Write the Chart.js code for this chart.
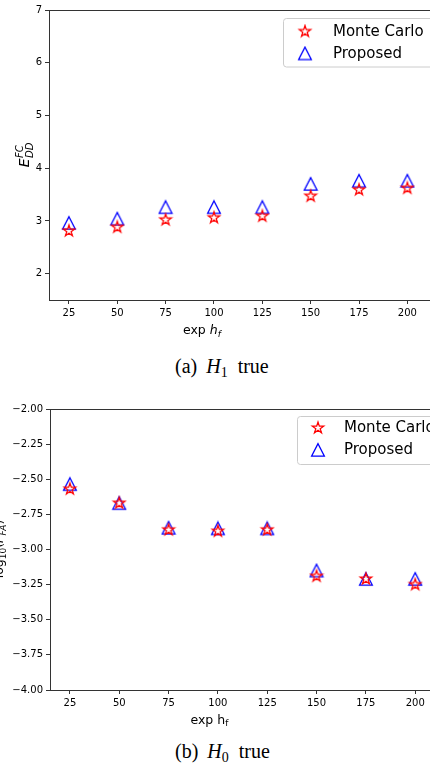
<!DOCTYPE html>
<html><head><meta charset="utf-8">
<script src="https://cdn.jsdelivr.net/npm/chart.js@4.4.0/dist/chart.umd.min.js"></script>
<style>
html,body{margin:0;padding:0;background:#fff;width:430px;height:764px;overflow:hidden;position:relative}
.wrap{position:absolute;left:0}
.cap{position:absolute;font-family:"Liberation Serif","Times New Roman",serif;font-size:20px;line-height:20px;white-space:nowrap;color:#000}
.cap sub{font-size:14px;vertical-align:-4px;line-height:0}
</style></head><body>
<div class="wrap" style="top:0"><canvas id="c1" width="460" height="345"></canvas></div>
<div class="wrap" style="top:390px"><canvas id="c2" width="460" height="345"></canvas></div>
<div class="cap" style="left:175px;top:356px">(a)<span style="margin-left:9px"><i>H</i><sub>1</sub></span><span style="margin-left:10px">true</span></div>
<div class="cap" style="left:175px;top:741px">(b)<span style="margin-left:9px"><i>H</i><sub>0</sub></span><span style="margin-left:10px">true</span></div>
<script>
const xValues=[25,50,75,100,125,150,175,200];
const xTickLabels=[25,50,75,100,125,150,175,200];
const seriesNames=['Monte Carlo','Proposed'];
const mcH1=[2.81,2.88,3.02,3.06,3.09,3.47,3.59,3.62];
const propH1=[2.96,3.04,3.26,3.26,3.26,3.70,3.76,3.76];
const mcH0=[-2.57,-2.67,-2.86,-2.87,-2.86,-3.19,-3.21,-3.25];
const propH0=[-2.535,-2.67,-2.846,-2.85,-2.85,-3.15,-3.21,-3.21];
const yTicksH1=[2,3,4,5,6,7];
const yTicksH0=[-4,-3.75,-3.5,-3.25,-3,-2.75,-2.5,-2.25,-2];

function starCanvas(){
  const s=16,c=document.createElement('canvas');c.width=s;c.height=s;
  const g=c.getContext('2d');const r=6,ri=r*0.381966;
  g.beginPath();
  for(let i=0;i<10;i++){const a=-Math.PI/2+i*Math.PI/5;const rr=i%2?ri:r;
    const x=s/2+rr*Math.cos(a),y=s/2+rr*Math.sin(a);i?g.lineTo(x,y):g.moveTo(x,y);}
  g.closePath();g.strokeStyle='#ff0000';g.lineWidth=1.25;g.stroke();return c;
}
function triCanvas(){
  const s=16,c=document.createElement('canvas');c.width=s;c.height=s;
  const g=c.getContext('2d');
  g.beginPath();g.moveTo(8,1.6);g.lineTo(1.6,14.2);g.lineTo(14.4,14.2);g.closePath();
  g.strokeStyle='#0000ff';g.lineWidth=1.25;g.stroke();return c;
}
const STAR=starCanvas(),TRI=triCanvas();

function drawRich(ctx,pieces,x,y,rot,align){
  ctx.save();ctx.translate(x,y);ctx.rotate(rot);ctx.textBaseline='alphabetic';ctx.fillStyle='#000';
  let total=0;
  pieces.forEach(p=>{ctx.font=p.font;p.w=ctx.measureText(p.t).width;if(!p.noAdv)total+=p.w+(p.gap||0);});
  let cx=align==='center'?-total/2:0;
  pieces.forEach(p=>{ctx.font=p.font;ctx.fillText(p.t,cx,p.dy||0);if(!p.noAdv)cx+=p.w+(p.gap||0);});
  ctx.restore();
}

const decor={
  id:'decor',
  afterDraw(chart,args,o){
    const ctx=chart.ctx,a=chart.chartArea;
    ctx.save();
    ctx.strokeStyle='#333';ctx.lineWidth=1;
    ctx.beginPath();ctx.moveTo(a.left,a.top+0.5);ctx.lineTo(a.right,a.top+0.5);ctx.stroke();
    const L=o.legend;
    ctx.beginPath();
    if(ctx.roundRect)ctx.roundRect(L.x,L.y,L.w,L.h,3);else ctx.rect(L.x,L.y,L.w,L.h);
    ctx.fillStyle='rgba(255,255,255,0.8)';ctx.fill();
    ctx.strokeStyle='#cccccc';ctx.lineWidth=1;ctx.stroke();
    ctx.font='15px "DejaVu Sans"';ctx.fillStyle='#000';ctx.textBaseline='middle';ctx.textAlign='left';
    chart.data.datasets.forEach((ds,i)=>{
      const yy=L.rows[i];
      ctx.drawImage(ds.pointStyle,L.mx-8,yy-8);
      ctx.fillText(ds.label,L.tx,yy+0.5);
    });
    ctx.restore();
    o.titles(ctx);
  }
};

function makeChart(id,mc,prop,yTicks,cfg){
  return new Chart(document.getElementById(id),{
    type:'scatter',
    data:{datasets:[
      {label:seriesNames[0],data:xValues.map((x,i)=>({x,y:mc[i]})),pointStyle:STAR,pointRadius:6,showLine:false},
      {label:seriesNames[1],data:xValues.map((x,i)=>({x,y:prop[i]})),pointStyle:TRI,pointRadius:6,showLine:false}
    ]},
    options:{
      responsive:false,animation:false,devicePixelRatio:1,
      layout:{padding:{top:cfg.top,right:5,left:0,bottom:0}},
      plugins:{legend:{display:false},tooltip:{enabled:false},decor:cfg.decor},
      scales:{
        x:{type:'linear',min:cfg.xmin,max:cfg.xmax,
          afterBuildTicks:s=>{s.ticks=xTickLabels.map(v=>({value:v}));},
          afterFit:s=>{s.height=45;},
          grid:{drawOnChartArea:false,drawTicks:true,tickLength:4,tickColor:'#333',tickWidth:1},
          border:{display:true,color:'#333',width:1},
          ticks:{font:{family:'DejaVu Sans',size:10},color:'#000',padding:3,maxRotation:0,autoSkip:false,callback:v=>String(v)}},
        y:{type:'linear',min:cfg.ymin,max:cfg.ymax,
          afterBuildTicks:s=>{s.ticks=yTicks.map(v=>({value:v}));},
          afterFit:s=>{s.width=cfg.yw;},
          grid:{drawOnChartArea:false,drawTicks:true,tickLength:4,tickColor:'#333',tickWidth:1},
          border:{display:true,color:'#333',width:1},
          ticks:{font:{family:'DejaVu Sans',size:10},color:'#000',padding:3,autoSkip:false,callback:cfg.yfmt}}
      }
    },
    plugins:[decor]
  });
}

makeChart('c1',mcH1,propH1,yTicksH1,{
  top:10,xmin:14.7,xmax:223.6,ymin:1.5,ymax:7,yw:49,yfmt:v=>String(v),
  decor:{
    legend:{x:283.5,y:18.5,w:200,h:48.5,mx:305,tx:333,rows:[31.5,53.5]},
    titles:(ctx)=>{
      drawRich(ctx,[
        {t:'exp ',font:'12.5px "DejaVu Sans"'},
        {t:'h',font:'italic 12.5px "DejaVu Sans"'},
        {t:'f',font:'italic 9px "DejaVu Sans"',dy:2.5}
      ],183,334,0,'left');
      drawRich(ctx,[
        {t:'E',font:'italic 14px "DejaVu Sans"',gap:0.5},
        {t:'FC',font:'italic 10px "DejaVu Sans"',dy:-6,noAdv:true},
        {t:'DD',font:'italic 10px "DejaVu Sans"',dy:3.5}
      ],29,155,-Math.PI/2,'center');
    }
  }
});

makeChart('c2',mcH0,propH0,yTicksH0,{
  top:19,xmin:14.91,xmax:219.15,ymin:-4,ymax:-2,yw:50,
  yfmt:v=>(v<0?'\u2212':'')+Math.abs(v).toFixed(2),
  decor:{
    legend:{x:297.5,y:26.5,w:200,h:48,mx:318,tx:344,rows:[38,60]},
    titles:(ctx)=>{
      drawRich(ctx,[
        {t:'exp h',font:'12.5px "DejaVu Sans"'},
        {t:'f',font:'9px "DejaVu Sans"',dy:2.5}
      ],190.5,333.5,0,'left');
      drawRich(ctx,[
        {t:'log',font:'12.5px "DejaVu Sans"'},
        {t:'10',font:'9px "DejaVu Sans"',dy:3},
        {t:'(',font:'12.5px "DejaVu Sans"'},
        {t:'P',font:'italic 12.5px "DejaVu Sans"'},
        {t:'FA',font:'italic 9px "DejaVu Sans"',dy:3},
        {t:')',font:'12.5px "DejaVu Sans"'}
      ],3,159,-Math.PI/2,'center');
    }
  }
});
</script>
</body></html>
